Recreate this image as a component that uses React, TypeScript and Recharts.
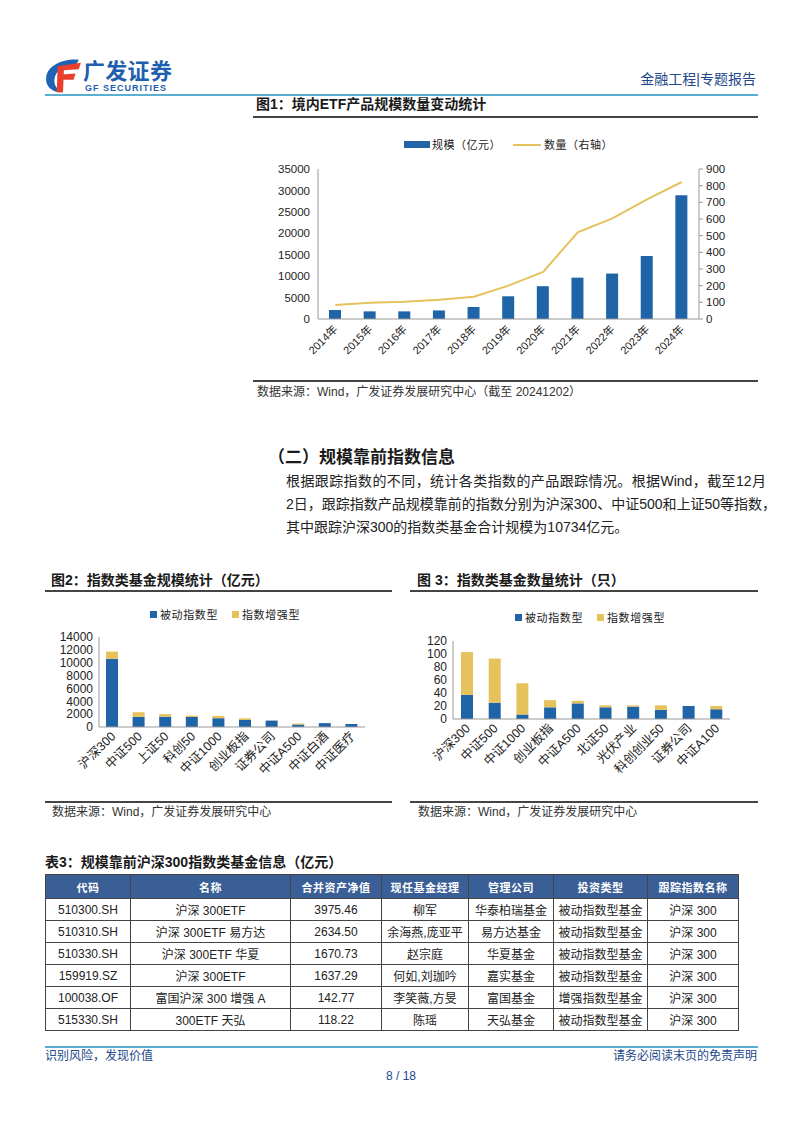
import React from 'react';
import { ComposedChart, BarChart, Bar, Line, XAxis, YAxis } from 'recharts';

const FONT = "'Liberation Sans', Arial, 'Noto Sans CJK SC', sans-serif";
const BLUE = '#1F64A7';
const GOLD = '#E6C25C';
const NAVY = '#23488A';

// 图1 ETF 规模与数量
const years = ['2014年', '2015年', '2016年', '2017年', '2018年', '2019年', '2020年', '2021年', '2022年', '2023年', '2024年'];
const etfScale = [2100, 1780, 1780, 2000, 2800, 5300, 7650, 9650, 10600, 14700, 28900];
const etfCount = [84, 98, 104, 116, 134, 200, 283, 520, 604, 718, 822];
const scaleTicks = [0, 5000, 10000, 15000, 20000, 25000, 30000, 35000];
const countTicks = [0, 100, 200, 300, 400, 500, 600, 700, 800, 900];

// 图2 指数类基金规模（亿元）
const sizeIndex = ['沪深300', '中证500', '上证50', '科创50', '中证1000', '创业板指', '证券公司', '中证A500', '中证白酒', '中证医疗'];
const sizePassive = [10600, 1580, 1600, 1560, 1370, 1090, 1000, 380, 600, 470];
const sizeEnhanced = [1130, 720, 400, 200, 350, 260, 20, 180, 0, 0];
const sizeTicks = [0, 2000, 4000, 6000, 8000, 10000, 12000, 14000];

// 图3 指数类基金数量（只）
const countIndex = ['沪深300', '中证500', '中证1000', '创业板指', '中证A500', '北证50', '光伏产业', '科创创业50', '证券公司', '中证A100'];
const countPassive = [37, 25, 7, 18, 24, 18, 19, 14, 20, 15];
const countEnhanced = [66, 68, 48, 11, 4, 3, 2, 7, 0, 5];
const numTicks = [0, 20, 40, 60, 80, 100, 120];

// 表3
const tblHead = ['代码', '名称', '合并资产净值', '现任基金经理', '管理公司', '投资类型', '跟踪指数名称'];
const tblCode = ['510300.SH', '510310.SH', '510330.SH', '159919.SZ', '100038.OF', '515330.SH'];
const tblName = ['沪深 300ETF', '沪深 300ETF 易方达', '沪深 300ETF 华夏', '沪深 300ETF', '富国沪深 300 增强 A', '300ETF 天弘'];
const tblNav = ['3975.46', '2634.50', '1670.73', '1637.29', '142.77', '118.22'];
const tblManager = ['柳军', '余海燕,庞亚平', '赵宗庭', '何如,刘珈吟', '李笑薇,方旻', '陈瑶'];
const tblCompany = ['华泰柏瑞基金', '易方达基金', '华夏基金', '嘉实基金', '富国基金', '天弘基金'];
const tblType = ['被动指数型基金', '被动指数型基金', '被动指数型基金', '被动指数型基金', '增强指数型基金', '被动指数型基金'];
const tblTrack = ['沪深 300', '沪深 300', '沪深 300', '沪深 300', '沪深 300', '沪深 300'];
const colW = [85, 160, 91, 87, 85, 94, 91];

const fig1Data = years.map((y, i) => ({ year: y, scale: etfScale[i], count: etfCount[i] }));
const fig2Data = sizeIndex.map((n, i) => ({ name: n, passive: sizePassive[i], enhanced: sizeEnhanced[i] }));
const fig3Data = countIndex.map((n, i) => ({ name: n, passive: countPassive[i], enhanced: countEnhanced[i] }));

function Txt({ x, y, size = 12, bold = false, color = '#222', right = false, children, ls = 0, w }: any) {
  const lh = Math.round(size * 1.4);
  const style: any = {
    position: 'absolute',
    top: y - lh / 2,
    fontSize: size,
    lineHeight: lh + 'px',
    fontWeight: bold ? 700 : 400,
    color,
    whiteSpace: 'nowrap',
    letterSpacing: ls,
  };
  if (right) style.right = 802 - x;
  else style.left = x;
  if (w) {
    style.width = w;
    style.textAlign = 'justify';
    style.textAlignLast = 'justify';
  }
  return <div style={style}>{children}</div>;
}

function HLine({ x1, x2, y, color = '#555', h = 1.5 }: any) {
  return <div style={{ position: 'absolute', left: x1, top: y - h / 2, width: x2 - x1, height: h, background: color }} />;
}

function RotTick({ x, y, payload, size = 11, dx = 3, dy = 9 }: any) {
  const tx = x + dx;
  const ty = y + dy;
  return (
    <text x={tx} y={ty} transform={`rotate(-45 ${tx} ${ty})`} textAnchor="end" fontSize={size} fill="#222" fontFamily={FONT}>
      {payload.value}
    </text>
  );
}

function Logo() {
  return (
    <svg style={{ position: 'absolute', left: 43, top: 57 }} width={40} height={37} viewBox="0 0 38 34">
      <path d="M34 2 C18 1 4 8 3 19 C2 27 8 32 15 33 L19 33 C13 30 10 26 11 20 C12 12 20 8 31 8 Z" fill="#1E63B5" />
      <path d="M15 8 L36 5 L34 11 L19 12 Z" fill="#E8402A" />
      <path d="M14 8 L20 8 L19 33 L13 33 Z" fill="#E8402A" />
      <path d="M18 16 L31 15 L29 21 L18 21 Z" fill="#E8402A" />
    </svg>
  );
}

function SquareLegend({ x, y, items }: any) {
  return (
    <div style={{ position: 'absolute', left: x, top: y - 8, height: 16, display: 'flex', alignItems: 'center', fontSize: 11, color: '#222' }}>
      {items.map((it: any, i: number) => (
        <div key={i} style={{ display: 'flex', alignItems: 'center', marginRight: i === 0 ? 14 : 0 }}>
          <span style={{ display: 'inline-block', width: 7, height: 7, background: it.color, marginRight: 3 }} />
          <span style={{ letterSpacing: 0.6 }}>{it.label}</span>
        </div>
      ))}
    </div>
  );
}

export default function App() {
  const axisStyle = { fontSize: 12, fill: '#222', fontFamily: FONT };
  const cell: any = { border: '1px solid #444', textAlign: 'center', padding: 0, fontSize: 12, color: '#222' };
  return (
    <div style={{ position: 'absolute', left: 0, top: 0, width: 802, height: 1133, background: '#fff', fontFamily: FONT, overflow: 'hidden' }}>
      {/* header */}
      <Logo />
      <Txt x={83} y={71} size={22} bold color="#1F5FAD" ls={0.3}>广发证券</Txt>
      <Txt x={85} y={88} size={9} bold color="#1F5FAD" ls={1}>GF SECURITIES</Txt>
      <Txt x={756} y={79} size={14} color={NAVY} right>金融工程|专题报告</Txt>
      <HLine x1={45} x2={758} y={95} color="#5AAFCF" h={2} />

      {/* 图1 */}
      <Txt x={256} y={104} size={14} bold color="#1a1a1a">图1：境内ETF产品规模数量变动统计</Txt>
      <HLine x1={253} x2={758} y={117} color="#444" h={1.5} />
      <div style={{ position: 'absolute', left: 404, top: 141, width: 26, height: 7, background: BLUE }} />
      <Txt x={432} y={145} size={11} ls={0.5}>规模（亿元）</Txt>
      <div style={{ position: 'absolute', left: 513, top: 144, width: 28, height: 2, background: GOLD }} />
      <Txt x={544} y={145} size={11} ls={0.5}>数量（右轴）</Txt>
      <div style={{ position: 'absolute', left: 250, top: 130 }}>
        <ComposedChart width={480} height={245} data={fig1Data} margin={{ top: 39, right: 0, bottom: 0, left: 0 }}>
          <XAxis dataKey="year" height={56} interval={0} tickLine={false} tickSize={0} tickMargin={0} axisLine={{ stroke: '#999' }} tick={(p: any) => <RotTick {...p} size={11} dx={3} dy={11} />} />
          <YAxis yAxisId="left" width={68} domain={[0, 35000]} ticks={scaleTicks} interval={0} tickLine={false} tickSize={5} tickMargin={3} axisLine={{ stroke: '#999' }} tick={{ ...axisStyle, fontSize: 11.5 }} />
          <YAxis yAxisId="right" orientation="right" width={31} domain={[0, 900]} ticks={countTicks} interval={0} tickLine={{ stroke: '#999' }} tickSize={4} tickMargin={3} axisLine={{ stroke: '#999' }} tick={{ ...axisStyle, fontSize: 11.5 }} />
          <Bar yAxisId="left" dataKey="scale" fill={BLUE} barSize={12} isAnimationActive={false} />
          <Line yAxisId="right" dataKey="count" type="linear" stroke={GOLD} strokeWidth={2} dot={false} isAnimationActive={false} />
        </ComposedChart>
      </div>
      <HLine x1={253} x2={758} y={381} color="#444" h={1.5} />
      <Txt x={257} y={392} size={12} color="#333">数据来源：Wind，广发证券发展研究中心（截至 20241202）</Txt>

      {/* 正文 */}
      <Txt x={268} y={458} size={17} bold color="#1a1a1a">（二）规模靠前指数信息</Txt>
      <Txt x={286} y={481} size={14} color="#222" w={480}>根据跟踪指数的不同，统计各类指数的产品跟踪情况。根据Wind，截至12月</Txt>
      <Txt x={286} y={504} size={14} color="#222" w={484}>2日，跟踪指数产品规模靠前的指数分别为沪深300、中证500和上证50等指数，</Txt>
      <Txt x={286} y={527} size={14} color="#222">其中跟踪沪深300的指数类基金合计规模为10734亿元。</Txt>

      {/* 图2 */}
      <Txt x={51} y={580} size={14} bold color="#1a1a1a">图2：指数类基金规模统计（亿元）</Txt>
      <HLine x1={45} x2={392} y={591} color="#444" h={1.5} />
      <SquareLegend x={150} y={614} items={[{ color: BLUE, label: '被动指数型' }, { color: GOLD, label: '指数增强型' }]} />
      <div style={{ position: 'absolute', left: 40, top: 620 }}>
        <BarChart width={330} height={177} data={fig2Data} margin={{ top: 17, right: 5, bottom: 0, left: 0 }}>
          <XAxis dataKey="name" height={70} interval={0} tickLine={false} tickSize={0} tickMargin={0} axisLine={{ stroke: '#999' }} tick={(p: any) => <RotTick {...p} size={12.5} dx={4} dy={10} />} />
          <YAxis width={59} domain={[0, 14000]} ticks={sizeTicks} interval={0} tickLine={false} tickSize={4} tickMargin={2} axisLine={{ stroke: '#999' }} tick={axisStyle} />
          <Bar dataKey="passive" stackId="a" fill={BLUE} barSize={12} isAnimationActive={false} />
          <Bar dataKey="enhanced" stackId="a" fill={GOLD} barSize={12} isAnimationActive={false} />
        </BarChart>
      </div>
      <HLine x1={45} x2={392} y={802} color="#444" h={1.5} />
      <Txt x={52} y={812} size={12} color="#333">数据来源：Wind，广发证券发展研究中心</Txt>

      {/* 图3 */}
      <Txt x={417} y={580} size={14} bold color="#1a1a1a">图 3：指数类基金数量统计（只）</Txt>
      <HLine x1={410} x2={758} y={591} color="#444" h={1.5} />
      <SquareLegend x={515} y={617} items={[{ color: BLUE, label: '被动指数型' }, { color: GOLD, label: '指数增强型' }]} />
      <div style={{ position: 'absolute', left: 400, top: 620 }}>
        <BarChart width={335} height={179} data={fig3Data} margin={{ top: 21, right: 5, bottom: 0, left: 0 }}>
          <XAxis dataKey="name" height={80} interval={0} tickLine={false} tickSize={0} tickMargin={0} axisLine={{ stroke: '#999' }} tick={(p: any) => <RotTick {...p} size={12.5} dx={4} dy={10} />} />
          <YAxis width={53} domain={[0, 120]} ticks={numTicks} interval={0} tickLine={false} tickSize={4} tickMargin={2} axisLine={{ stroke: '#999' }} tick={axisStyle} />
          <Bar dataKey="passive" stackId="a" fill={BLUE} barSize={12} isAnimationActive={false} />
          <Bar dataKey="enhanced" stackId="a" fill={GOLD} barSize={12} isAnimationActive={false} />
        </BarChart>
      </div>
      <HLine x1={410} x2={758} y={802} color="#444" h={1.5} />
      <Txt x={418} y={812} size={12} color="#333">数据来源：Wind，广发证券发展研究中心</Txt>

      {/* 表3 */}
      <Txt x={45} y={862} size={14} bold color="#1a1a1a">表3：规模靠前沪深300指数类基金信息（亿元）</Txt>
      <table style={{ position: 'absolute', left: 45, top: 874, width: 693, borderCollapse: 'collapse', tableLayout: 'fixed', fontFamily: FONT }}>
        <colgroup>
          {colW.map((w, i) => <col key={i} style={{ width: w }} />)}
        </colgroup>
        <thead>
          <tr style={{ height: 24, background: '#3A5E96' }}>
            {tblHead.map((h, i) => (
              <th key={i} style={{ ...cell, color: '#fff', fontSize: 11, fontWeight: 700, letterSpacing: 0.5 }}>{h}</th>
            ))}
          </tr>
        </thead>
        <tbody>
          {tblCode.map((c, r) => (
            <tr key={r} style={{ height: 22 }}>
              <td style={cell}>{c}</td>
              <td style={cell}>{tblName[r]}</td>
              <td style={cell}>{tblNav[r]}</td>
              <td style={cell}>{tblManager[r]}</td>
              <td style={cell}>{tblCompany[r]}</td>
              <td style={cell}>{tblType[r]}</td>
              <td style={cell}>{tblTrack[r]}</td>
            </tr>
          ))}
        </tbody>
      </table>

      {/* footer */}
      <HLine x1={45} x2={758} y={1047} color="#5AAFCF" h={2} />
      <Txt x={45} y={1056} size={12} color={NAVY}>识别风险，发现价值</Txt>
      <Txt x={757} y={1056} size={12} color={NAVY} right>请务必阅读末页的免责声明</Txt>
      <div style={{ position: 'absolute', left: 0, width: 802, top: 1069, textAlign: 'center', fontSize: 12, color: NAVY }}>8 / 18</div>
    </div>
  );
}
